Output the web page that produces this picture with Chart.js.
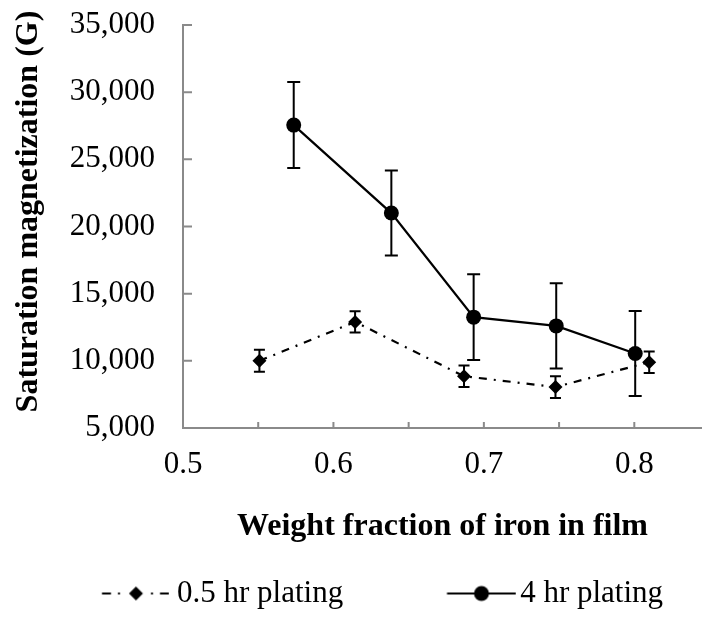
<!DOCTYPE html>
<html>
<head>
<meta charset="utf-8">
<script src="https://cdn.jsdelivr.net/npm/chart.js@4.4.1/dist/chart.umd.min.js"></script>
<style>
  html, body { margin: 0; padding: 0; background: #fff; overflow: hidden; }
  #wrap { width: 702px; height: 619px; }
</style>
</head>
<body>
<div id="wrap"><canvas id="chart" width="702" height="619"></canvas></div>
<script>
// Weight fraction of iron vs. saturation magnetization, two plating times
const fe05 = [0.5508, 0.6144, 0.6868, 0.7476, 0.8099];
const ms05 = [10000, 12900, 8850, 8050, 9900];
const sd05 = [820, 800, 800, 810, 800];

const fe4 = [0.5736, 0.6385, 0.6932, 0.7481, 0.8006];
const ms4 = [27550, 21000, 13250, 12600, 10550];
const sd4 = [3200, 3160, 3190, 3170, 3160];

const seriesNames = ['0.5 hr plating', '4 hr plating'];

const xLabelTicks = [0.5, 0.6, 0.7, 0.8];
const xMinorTicks = [0.55, 0.65, 0.75];
const yTicks = [5000, 10000, 15000, 20000, 25000, 30000, 35000];

const xTitle = 'Weight fraction of iron in film';
const yTitle = 'Saturation magnetization (G)';

const FONT = '"Liberation Serif", "Times New Roman", serif';
const AXIS_GRAY = '#8a8a8a';
const TICK_SIZE = 31;

const toPoints = (xs, ys) => xs.map((x, i) => ({ x: x, y: ys[i] }));

// Legend sample glyphs: drawn into small canvases used as point styles.
const measure = document.createElement('canvas').getContext('2d');
measure.font = TICK_SIZE + 'px ' + FONT;
const text1W = measure.measureText(seriesNames[0]).width;
const LEG_PAD = 20, LEG_BOX = 141.5;
const box1Center = LEG_PAD + LEG_BOX / 2;
const box2Center = LEG_PAD + LEG_BOX + TICK_SIZE / 2 + text1W + LEG_PAD + LEG_BOX / 2;

function glyph(centerX, rightX, draw) {
  const half = rightX - centerX;
  const c = document.createElement('canvas');
  c.width = Math.ceil(half * 2);
  c.height = 22;
  const g = c.getContext('2d');
  const left = centerX - c.width / 2;
  draw(g, x => x - left, 11);
  return c;
}

const glyph05 = glyph(box1Center, 169, (g, X, cy) => {
  g.fillStyle = '#000';
  g.fillRect(X(102), cy - 1, 9, 2);
  g.fillRect(X(118), cy - 1, 2, 2);
  g.fillRect(X(151), cy - 1, 2, 2);
  g.fillRect(X(160), cy - 1, 9, 2);
  const c = X(136);
  g.beginPath();
  g.moveTo(c - 7, cy); g.lineTo(c, cy - 7); g.lineTo(c + 7, cy); g.lineTo(c, cy + 7);
  g.closePath(); g.fill();
});

const glyph4 = glyph(box2Center, 516, (g, X, cy) => {
  g.fillStyle = '#000';
  g.fillRect(X(447), cy - 1, 69, 2);
  g.beginPath();
  g.arc(X(481.5), cy, 7.5, 0, Math.PI * 2);
  g.fill();
});

// Vertical error bars with caps, drawn from each dataset's `errors` array
const errorBars = {
  id: 'errorBars',
  beforeDatasetsDraw(chart) {
    const ctx = chart.ctx;
    const ys = chart.scales.y;
    chart.data.datasets.forEach((ds, di) => {
      const meta = chart.getDatasetMeta(di);
      ctx.save();
      ctx.strokeStyle = '#000';
      ctx.lineWidth = 2;
      meta.data.forEach((pt, i) => {
        const v = ds.data[i].y, e = ds.errors[i];
        const top = ys.getPixelForValue(v + e);
        const bot = ys.getPixelForValue(v - e);
        const cap = ds.capHalf;
        ctx.beginPath();
        ctx.moveTo(pt.x, top); ctx.lineTo(pt.x, bot);
        ctx.moveTo(pt.x - cap, top); ctx.lineTo(pt.x + cap, top);
        ctx.moveTo(pt.x - cap, bot); ctx.lineTo(pt.x + cap, bot);
        ctx.stroke();
      });
      ctx.restore();
    });
  }
};

// Tick marks pointing into the plot area
const inwardTicks = {
  id: 'inwardTicks',
  beforeDatasetsDraw(chart) {
    const ctx = chart.ctx;
    const { x, y } = chart.scales;
    const area = chart.chartArea;
    ctx.save();
    ctx.strokeStyle = AXIS_GRAY;
    ctx.lineWidth = 2;
    ctx.beginPath();
    x.ticks.forEach(t => {
      const px = x.getPixelForValue(t.value);
      ctx.moveTo(px, area.bottom); ctx.lineTo(px, area.bottom - 6);
    });
    y.ticks.forEach(t => {
      const py = y.getPixelForValue(t.value);
      ctx.moveTo(area.left, py); ctx.lineTo(area.left + 9, py);
    });
    ctx.stroke();
    ctx.restore();
  }
};

// Rotated y-axis title, set a little above the plot's vertical centre
const yAxisTitle = {
  id: 'yAxisTitle',
  afterDraw(chart) {
    const ctx = chart.ctx;
    const area = chart.chartArea;
    ctx.save();
    ctx.translate(29, (area.top + area.bottom) / 2 - 15);
    ctx.rotate(-Math.PI / 2);
    ctx.font = 'bold 32px ' + FONT;
    ctx.fillStyle = '#000';
    ctx.textAlign = 'center';
    ctx.textBaseline = 'middle';
    ctx.fillText(yTitle, 0, 0);
    ctx.restore();
  }
};

new Chart(document.getElementById('chart'), {
  type: 'scatter',
  data: {
    datasets: [
      {
        label: seriesNames[0],
        data: toPoints(fe05, ms05),
        errors: sd05,
        capHalf: 5.5,
        showLine: true,
        borderColor: '#000',
        borderWidth: 2.2,
        borderDash: [8, 7, 2, 7],
        pointStyle: 'rectRot',
        pointRadius: 7,
        pointBorderWidth: 0,
        pointBackgroundColor: '#000'
      },
      {
        label: seriesNames[1],
        data: toPoints(fe4, ms4),
        errors: sd4,
        capHalf: 6.5,
        showLine: true,
        borderColor: '#000',
        borderWidth: 2.2,
        pointStyle: 'circle',
        pointRadius: 7.5,
        pointBorderWidth: 0,
        pointBackgroundColor: '#000'
      }
    ]
  },
  options: {
    responsive: false,
    animation: false,
    events: [],
    layout: { autoPadding: false, padding: { top: 25, right: 0, bottom: 0, left: 0 } },
    scales: {
      x: {
        type: 'linear',
        min: 0.5,
        max: 0.845,
        afterBuildTicks(scale) {
          scale.ticks = xLabelTicks.concat(xMinorTicks).sort((a, b) => a - b).map(v => ({ value: v }));
        },
        afterFit(scale) {
          scale.height = 130;
          scale.paddingLeft = 0;
          scale.paddingRight = 0;
        },
        grid: { display: false, drawTicks: false },
        border: { display: true, color: AXIS_GRAY, width: 2 },
        ticks: {
          autoSkip: false,
          maxRotation: 0,
          padding: 18,
          color: '#000',
          font: { family: FONT, size: TICK_SIZE },
          callback: v => xLabelTicks.some(t => Math.abs(t - v) < 1e-9) ? v.toFixed(1) : ''
        },
        title: {
          display: true,
          text: xTitle,
          color: '#000',
          font: { family: FONT, size: 32, weight: 'bold' },
          padding: { top: 0, bottom: 12 }
        }
      },
      y: {
        type: 'linear',
        min: 5000,
        max: 35000,
        afterBuildTicks(scale) {
          scale.ticks = yTicks.map(v => ({ value: v }));
        },
        afterFit(scale) {
          scale.width = 183;
          scale.paddingTop = 0;
          scale.paddingBottom = 0;
        },
        grid: { display: false, drawTicks: false },
        border: { display: true, color: AXIS_GRAY, width: 2 },
        ticks: {
          autoSkip: false,
          padding: 28,
          color: '#000',
          font: { family: FONT, size: TICK_SIZE },
          callback: v => v.toLocaleString('en-US')
        },
        title: { display: false }
      }
    },
    plugins: {
      tooltip: { enabled: false },
      legend: {
        position: 'bottom',
        align: 'start',
        labels: {
          usePointStyle: true,
          pointStyleWidth: LEG_BOX,
          padding: LEG_PAD,
          color: '#000',
          font: { family: FONT, size: TICK_SIZE },
          generateLabels: chart => chart.data.datasets.map((ds, i) => ({
            text: ds.label,
            pointStyle: i === 0 ? glyph05 : glyph4,
            fillStyle: '#000',
            strokeStyle: '#000',
            lineWidth: 1,
            hidden: false,
            datasetIndex: i
          }))
        }
      }
    }
  },
  plugins: [errorBars, inwardTicks, yAxisTitle]
});
</script>
</body>
</html>
